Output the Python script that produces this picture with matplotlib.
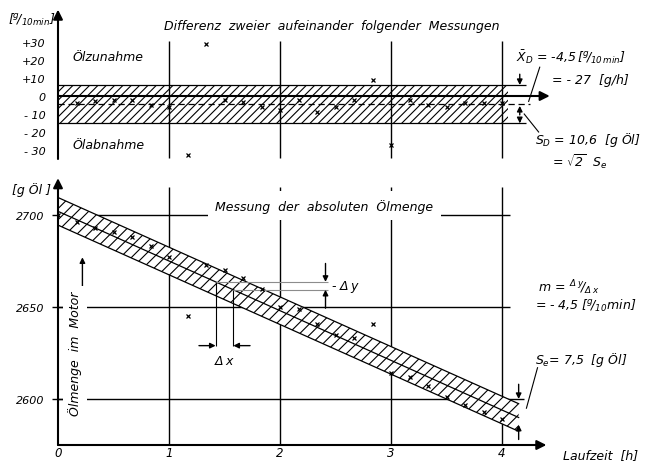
import numpy as np
import matplotlib.pyplot as plt

# oil content of the engine, weighed every 10 minutes
minutes = [0, 10, 20, 30, 40, 50, 60, 70, 80, 90, 100, 110, 120,
           130, 140, 150, 160, 170, 180, 190, 200, 210, 220, 230, 240]
oil_g = [2700, 2696, 2693, 2691, 2688, 2683, 2677, 2645, 2673, 2670, 2666, 2660, 2650,
         2649, 2641, 2635, 2633, 2641, 2614, 2612, 2607, 2601, 2597, 2593, 2589]

# difference of two successive weighings [g/10 min]
diff_minutes = minutes[1:]
diff_g = [-4, -3, -2, -2, -5, -6, -33, 29, -2, -3.5, -6, -8,
          -2, -9, -6, -2, 9, -27, -2, -5, -6, -4, -4, -4]

mean_diff = -4.5     # X_D  [g/10 min]
sd_diff = 10.6       # S_D  [g]
slope = -4.5         # m    [g/10 min]
intercept = 2702     # [g]
s_e = 7.5            # S_e  [g]

hours = np.array(minutes) / 60
diff_hours = np.array(diff_minutes) / 60

plt.rcParams['font.family'] = ['DejaVu Sans']
plt.rcParams['font.style'] = 'italic'
plt.rcParams['mathtext.fontset'] = 'dejavusans'
plt.rcParams['mathtext.default'] = 'it'
plt.rcParams['hatch.linewidth'] = 0.8

W, H = 647, 464
fig = plt.figure(figsize=(W / 100, H / 100), dpi=100)
ax_d = fig.add_axes([58 / W, (H - 160) / H, 499.5 / W, 149.4 / H])
ax_a = fig.add_axes([58 / W, 18 / H, 499.5 / W, 266.8 / H])
ax_d.set_xlim(0, 4.5)
ax_d.set_ylim(-35, 48)
ax_a.set_xlim(0, 4.5)
ax_a.set_ylim(2575, 2720)

for ax in (ax_d, ax_a):
    for s in ax.spines.values():
        s.set_visible(False)
    ax.patch.set_alpha(0)

arrow = dict(arrowstyle='-|>', color='k', lw=1.0, shrinkA=0, shrinkB=0, mutation_scale=8)
axis_arrow = dict(arrowstyle='-|>', color='k', lw=1.5, shrinkA=0, shrinkB=0, mutation_scale=14)
grid_kw = dict(color='k', lw=1.0, zorder=1)

# ---------- upper panel: differences ----------
d_ticks = [30, 20, 10, 0, -10, -20, -30]
d_labels = ['+30', '+20', '+10', '0', '- 10', '- 20', '- 30']
ax_d.set_xticks([])
ax_d.set_yticks(d_ticks, d_labels)
ax_d.tick_params(axis='y', length=0, pad=9, labelsize=8)

ax_d.vlines([1, 2, 3, 4], -34.5, 30.5, **grid_kw)
ax_d.annotate('', xy=(0, 48), xytext=(0, -35), arrowprops=axis_arrow)
ax_d.annotate('', xy=(4.43, 0), xytext=(0, 0), arrowprops=axis_arrow)

ax_d.fill_between([0, 4.05], mean_diff - sd_diff, mean_diff + sd_diff,
                  facecolor='none', edgecolor='k', hatch='////', lw=0, zorder=2)
ax_d.hlines([mean_diff + sd_diff, mean_diff - sd_diff], 0, 4.22, color='k', lw=0.9, zorder=2)
ax_d.plot([0, 4.25], [mean_diff, mean_diff], color='k', lw=0.9, ls=(0, (5, 3)), zorder=2)
ax_d.plot(diff_hours, diff_g, 'x', color='k', ms=3, mew=0.9, zorder=3)

ax_d.text(2.47, 39, 'Differenz  zweier  aufeinander  folgender  Messungen',
          ha='center', va='center', fontsize=9)
ax_d.text(0.13, 22, 'Ölzunahme', ha='left', va='center', fontsize=9)
ax_d.text(0.13, -27, 'Ölabnahme', ha='left', va='center', fontsize=9)
ax_d.text(-0.24, 43, r'$[^{g}\!/_{10min}]$', ha='center', va='center', fontsize=9)

# dimension marks for X_D and S_D
ax_d.annotate('', xy=(4.16, mean_diff + sd_diff), xytext=(4.16, mean_diff + sd_diff + 6), arrowprops=arrow)
ax_d.annotate('', xy=(4.16, mean_diff - 1), xytext=(4.16, mean_diff - 6), arrowprops=arrow)
ax_d.annotate('', xy=(4.16, mean_diff - sd_diff), xytext=(4.16, mean_diff - 9), arrowprops=arrow)
ax_d.plot([4.34, 4.24], [16, -3], color='k', lw=0.8, clip_on=False)
ax_d.plot([4.2, 4.33], [-10, -20], color='k', lw=0.8, clip_on=False)
ax_d.text(4.13, 22, r'$\bar{X}_D$ = -4,5$\,[^{g}\!/_{10\,min}]$', ha='left', va='center', fontsize=9)
ax_d.text(4.45, 9, '= - 27  [g/h]', ha='left', va='center', fontsize=9)
ax_d.text(4.3, -24, r'$S_D$ = 10,6  [g Öl]', ha='left', va='center', fontsize=9)
ax_d.text(4.45, -36, r'= $\sqrt{2}$  $S_e$', ha='left', va='center', fontsize=9)

# ---------- lower panel: absolute oil content ----------
ax_a.set_xticks([0, 1, 2, 3, 4], ['0', '1', '2', '3', '4'])
ax_a.tick_params(axis='x', length=0, pad=1, labelsize=8.5)
ax_a.set_yticks([2600, 2650, 2700], ['2600', '2650', '2700'])
ax_a.tick_params(axis='y', length=8, direction='inout', width=1.0, pad=6, labelsize=8)

ax_a.vlines([1, 2, 3, 4], 2575, 2715, **grid_kw)
ax_a.hlines([2700, 2650, 2600], 0, [4.07, 4.07, 4.2], **grid_kw)
ax_a.annotate('', xy=(0, 2720), xytext=(0, 2575), arrowprops=axis_arrow)
ax_a.annotate('', xy=(4.4, 2575), xytext=(0, 2575), arrowprops=axis_arrow)

tt = np.array([0, 4.15])
line = intercept + slope * 6 * tt
ax_a.fill_between(tt, line - s_e, line + s_e, facecolor='white', edgecolor='k',
                  hatch='///', lw=0, zorder=2)
ax_a.plot(tt, line + s_e, color='k', lw=0.9, zorder=2)
ax_a.plot(tt, line - s_e, color='k', lw=0.9, zorder=2)
ax_a.plot(tt, line, color='k', lw=0.9, zorder=2)
ax_a.plot(hours, oil_g, 'x', color='k', ms=3, mew=0.9, zorder=3)

ax_a.text(2.4, 2705, 'Messung  der  absoluten  Ölmenge', ha='center', va='center', fontsize=9,
          bbox=dict(boxstyle='square,pad=0.6', fc='white', ec='none'), zorder=4)
ax_a.text(0.15, 2625, 'Ölmenge  im  Motor', ha='center', va='center', rotation=90, fontsize=9,
          bbox=dict(boxstyle='square,pad=0.4', fc='white', ec='none'), zorder=4)
ax_a.annotate('', xy=(0.22, 2677), xytext=(0.22, 2653), arrowprops=arrow)
ax_a.text(-0.24, 2714, '[g Öl ]', ha='center', va='center', fontsize=9)
ax_a.text(4.55, 2570, 'Laufzeit  [h]', ha='left', va='center', fontsize=9)

# slope construction: delta x / delta y
t1, t2 = 1.42, 1.58
y1 = intercept + slope * 6 * t1
y2 = intercept + slope * 6 * t2
ax_a.vlines([t1, t2], 2629, [y1, y2], color='k', lw=0.8, zorder=2)
ax_a.annotate('', xy=(t1, 2629), xytext=(t1 - 0.15, 2629), arrowprops=arrow)
ax_a.annotate('', xy=(t2, 2629), xytext=(t2 + 0.15, 2629), arrowprops=arrow)
ax_a.text((t1 + t2) / 2, 2621, r'$\Delta\,x$', ha='center', va='center', fontsize=9)
ax_a.hlines([y1, y2], [t1, t2], 2.43, color='0.55', lw=0.8, zorder=2)
ax_a.annotate('', xy=(2.41, y1), xytext=(2.41, y1 + 10), arrowprops=arrow)
ax_a.annotate('', xy=(2.41, y2), xytext=(2.41, y2 - 10), arrowprops=arrow)
ax_a.text(2.46, (y1 + y2) / 2, r'- $\Delta\,y$', ha='left', va='center', fontsize=9)

ax_a.text(4.32, 2661, r'$m\,=\,^{\Delta\,y}\!/_{\Delta\,x}$', ha='left', va='center', fontsize=9)
ax_a.text(4.3, 2651, r'= - 4,5 $[^{g}\!/_{10}min]$', ha='left', va='center', fontsize=9)
ax_a.text(4.3, 2622, r'$S_e$= 7,5  [g Öl]', ha='left', va='center', fontsize=9)
ax_a.plot([4.32, 4.22], [2617, 2595], color='k', lw=0.8, clip_on=False)
ax_a.annotate('', xy=(4.15, 2600), xytext=(4.15, 2608), arrowprops=arrow)
ax_a.annotate('', xy=(4.15, 2586), xytext=(4.15, 2578), arrowprops=arrow)

fig.savefig('out.png', dpi=100)
